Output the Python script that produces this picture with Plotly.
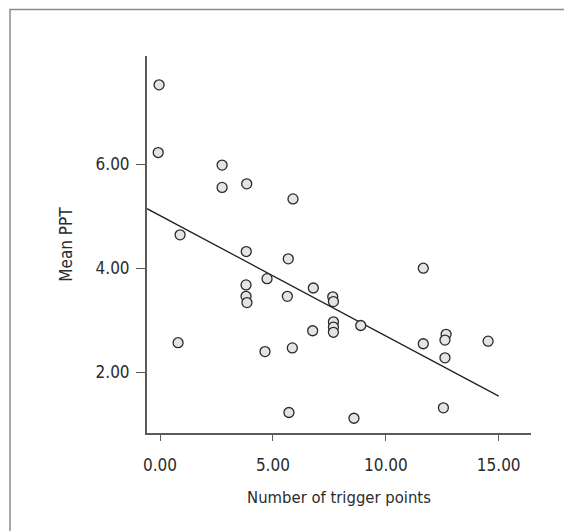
import plotly.graph_objects as go

# Data
trigger_points = [-0.04, -0.08, 2.75, 2.75, 3.84, 5.89, 0.89, 3.82, 5.68, 4.74,
                  3.81, 3.81, 3.85, 6.79, 5.64, 7.65, 7.68, 7.68, 7.68, 7.68,
                  6.76, 0.80, 4.65, 5.86, 5.71, 11.66, 8.89, 12.67, 12.62, 11.66,
                  14.53, 12.62, 12.55, 8.59]
mean_ppt = [7.52, 6.22, 5.98, 5.55, 5.62, 5.33, 4.64, 4.32, 4.18, 3.80,
            3.68, 3.46, 3.34, 3.62, 3.46, 3.45, 3.36, 2.97, 2.87, 2.77,
            2.80, 2.57, 2.40, 2.47, 1.23, 4.00, 2.90, 2.73, 2.62, 2.55,
            2.60, 2.28, 1.32, 1.12]

fit_intercept = 5.01
fit_slope = -0.231
x_range = [-0.576, 16.43]
y_range = [0.837, 8.073]
fit_x = [x_range[0], 15.0]
fit_y = [fit_intercept + fit_slope * x for x in fit_x]

x_ticks = [0, 5, 10, 15]
y_ticks = [2, 4, 6]

FONT = "DejaVu Sans Condensed, Liberation Sans Narrow, sans-serif"
AXIS_COLOR = "#5a5a5a"
TEXT_COLOR = "#2b2b2b"

# page body has an 8px margin: compensate so the plot area lands where the reference has it
W, H = 564, 523
L, T = 139, 48
PW, PH = 384, 377

fig = go.Figure()
fig.add_trace(go.Scatter(
    x=fit_x, y=fit_y, mode="lines",
    line=dict(color="#222222", width=1.3),
    hoverinfo="skip", showlegend=False, cliponaxis=False,
))
fig.add_trace(go.Scatter(
    x=trigger_points, y=mean_ppt, mode="markers",
    marker=dict(symbol="circle", size=10, color="#e4e4e4",
                line=dict(color="#2a2a2a", width=1.3)),
    showlegend=False, cliponaxis=False,
))

fig.update_layout(
    width=W, height=H,
    margin=dict(l=L, r=W - L - PW, t=T, b=H - T - PH),
    paper_bgcolor="white", plot_bgcolor="white",
    font=dict(family=FONT, size=17, color=TEXT_COLOR),
    xaxis=dict(
        range=x_range, tickmode="array", tickvals=x_ticks, tickformat=".2f",
        showgrid=False, zeroline=False, showline=True, linecolor=AXIS_COLOR,
        linewidth=2, ticks="outside", ticklen=6, tickwidth=1, tickcolor=AXIS_COLOR,
        ticklabelstandoff=10,
        title=dict(text="Number of trigger points", standoff=17,
                   font=dict(family=FONT, size=16.5, color=TEXT_COLOR)),
        tickfont=dict(family=FONT, size=17, color=TEXT_COLOR),
    ),
    yaxis=dict(
        range=y_range, tickmode="array", tickvals=y_ticks, tickformat=".2f",
        showgrid=False, zeroline=False, showline=True, linecolor=AXIS_COLOR,
        linewidth=2, ticks="outside", ticklen=9, tickwidth=1, tickcolor=AXIS_COLOR,
        ticklabelstandoff=3,
        title=dict(text="Mean PPT", standoff=19,
                   font=dict(family=FONT, size=17, color=TEXT_COLOR)),
        tickfont=dict(family=FONT, size=17, color=TEXT_COLOR),
    ),
    shapes=[dict(type="rect", xref="paper", yref="paper",
                 x0=(2 - L) / PW, x1=(560 - L) / PW,
                 y0=(T + PH - 540) / PH, y1=(T + PH - 1.5) / PH,
                 line=dict(color="#8a8a8a", width=1.5), fillcolor="rgba(0,0,0,0)",
                 layer="below")],
)

fig.write_html("out.html")
